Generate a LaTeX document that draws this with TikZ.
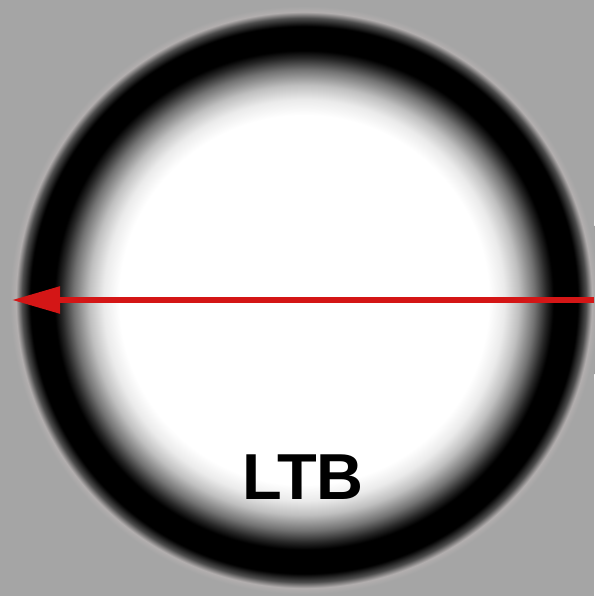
\documentclass[tikz,border=0pt]{standalone}
\usepackage{fontspec}
\setmainfont{Liberation Sans}
\usetikzlibrary{arrows.meta}
\definecolor{bggray}{RGB}{165,165,165}
\definecolor{halo}{RGB}{178,174,174}
\definecolor{arrowred}{RGB}{212,22,22}
\pgfdeclareradialshading{ringshade}{\pgfpoint{0bp}{0bp}}{%
  color(0bp)=(white);
  color(15.4bp)=(white);
  color(16.7bp)=(black!8);
  color(17.9bp)=(black!25);
  color(19.2bp)=(black!55);
  color(20.2bp)=(black!85);
  color(20.8bp)=(black);
  color(22.8bp)=(black);
  color(23.5bp)=(black!70);
  color(24bp)=(halo);
  color(24.5bp)=(bggray);
  color(25bp)=(bggray);
  color(50bp)=(bggray)}
\tikzset{
  ringdisc/.style={shading=ringshade},
  redarrow/.style={draw=arrowred, line width=5.5pt, -{Triangle[length=48pt,width=26pt]}},
  label/.style={font=\bfseries\fontsize{65}{70}\selectfont, text=black, inner sep=0pt}
}
\begin{document}
\begin{tikzpicture}[x=1pt,y=1pt]
  \useasboundingbox (0,0) rectangle (594,596);
  \fill[bggray] (0,0) rectangle (594,596);
  \shade[ringdisc] (304,296) circle (300);
  \coordinate (arrowstart) at (594,296);
  \coordinate (arrowend) at (12,296);
  \draw[redarrow] (arrowstart) -- (arrowend);
  \node[label] (ltb) at (303,119) {LTB};
\end{tikzpicture}
\end{document}
